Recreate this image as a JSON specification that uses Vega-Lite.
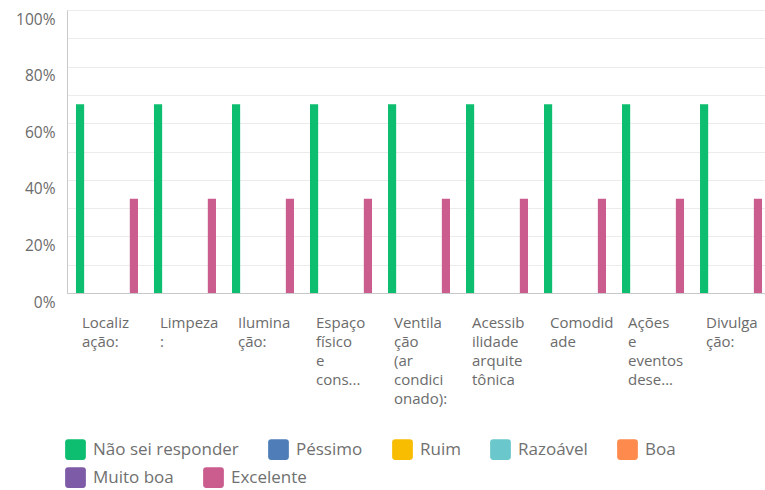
{
  "$schema": "https://vega.github.io/schema/vega-lite/v6.json",
  "width": 704,
  "height": 283,
  "padding": {"left": 15, "top": 10, "right": -6, "bottom": 0},
  "background": "white",
  "config": {
    "font": "Open Sans",
    "view": {"stroke": null},
    "axis": {"labelFont": "Open Sans", "labelColor": "#6b6b6b"},
    "legend": {
      "symbolType": "M -0.7,-1 L 0.7,-1 Q 1,-1 1,-0.7 L 1,0.7 Q 1,1 0.7,1 L -0.7,1 Q -1,1 -1,0.7 L -1,-0.7 Q -1,-1 -0.7,-1 Z",
      "symbolSize": 430,
      "symbolStrokeWidth": 0,
      "symbolOpacity": 1,
      "labelFontSize": 17,
      "labelColor": "#707070",
      "labelFont": "Open Sans",
      "labelOffset": 7,
      "columnPadding": 29,
      "padding": 0
    }
  },
  "datasets": {
    "rows": [
      {"item": "Localiz|ação:", "resposta": "Não sei responder", "pct": 0.6667},
      {"item": "Localiz|ação:", "resposta": "Péssimo", "pct": 0},
      {"item": "Localiz|ação:", "resposta": "Ruim", "pct": 0},
      {"item": "Localiz|ação:", "resposta": "Razoável", "pct": 0},
      {"item": "Localiz|ação:", "resposta": "Boa", "pct": 0},
      {"item": "Localiz|ação:", "resposta": "Muito boa", "pct": 0},
      {"item": "Localiz|ação:", "resposta": "Excelente", "pct": 0.3333},
      {"item": "Limpeza|:", "resposta": "Não sei responder", "pct": 0.6667},
      {"item": "Limpeza|:", "resposta": "Péssimo", "pct": 0},
      {"item": "Limpeza|:", "resposta": "Ruim", "pct": 0},
      {"item": "Limpeza|:", "resposta": "Razoável", "pct": 0},
      {"item": "Limpeza|:", "resposta": "Boa", "pct": 0},
      {"item": "Limpeza|:", "resposta": "Muito boa", "pct": 0},
      {"item": "Limpeza|:", "resposta": "Excelente", "pct": 0.3333},
      {"item": "Ilumina|ção:", "resposta": "Não sei responder", "pct": 0.6667},
      {"item": "Ilumina|ção:", "resposta": "Péssimo", "pct": 0},
      {"item": "Ilumina|ção:", "resposta": "Ruim", "pct": 0},
      {"item": "Ilumina|ção:", "resposta": "Razoável", "pct": 0},
      {"item": "Ilumina|ção:", "resposta": "Boa", "pct": 0},
      {"item": "Ilumina|ção:", "resposta": "Muito boa", "pct": 0},
      {"item": "Ilumina|ção:", "resposta": "Excelente", "pct": 0.3333},
      {"item": "Espaço|físico|e|cons...", "resposta": "Não sei responder", "pct": 0.6667},
      {"item": "Espaço|físico|e|cons...", "resposta": "Péssimo", "pct": 0},
      {"item": "Espaço|físico|e|cons...", "resposta": "Ruim", "pct": 0},
      {"item": "Espaço|físico|e|cons...", "resposta": "Razoável", "pct": 0},
      {"item": "Espaço|físico|e|cons...", "resposta": "Boa", "pct": 0},
      {"item": "Espaço|físico|e|cons...", "resposta": "Muito boa", "pct": 0},
      {"item": "Espaço|físico|e|cons...", "resposta": "Excelente", "pct": 0.3333},
      {"item": "Ventila|ção|(ar|condici|onado):", "resposta": "Não sei responder", "pct": 0.6667},
      {"item": "Ventila|ção|(ar|condici|onado):", "resposta": "Péssimo", "pct": 0},
      {"item": "Ventila|ção|(ar|condici|onado):", "resposta": "Ruim", "pct": 0},
      {"item": "Ventila|ção|(ar|condici|onado):", "resposta": "Razoável", "pct": 0},
      {"item": "Ventila|ção|(ar|condici|onado):", "resposta": "Boa", "pct": 0},
      {"item": "Ventila|ção|(ar|condici|onado):", "resposta": "Muito boa", "pct": 0},
      {"item": "Ventila|ção|(ar|condici|onado):", "resposta": "Excelente", "pct": 0.3333},
      {"item": "Acessib|ilidade|arquite|tônica", "resposta": "Não sei responder", "pct": 0.6667},
      {"item": "Acessib|ilidade|arquite|tônica", "resposta": "Péssimo", "pct": 0},
      {"item": "Acessib|ilidade|arquite|tônica", "resposta": "Ruim", "pct": 0},
      {"item": "Acessib|ilidade|arquite|tônica", "resposta": "Razoável", "pct": 0},
      {"item": "Acessib|ilidade|arquite|tônica", "resposta": "Boa", "pct": 0},
      {"item": "Acessib|ilidade|arquite|tônica", "resposta": "Muito boa", "pct": 0},
      {"item": "Acessib|ilidade|arquite|tônica", "resposta": "Excelente", "pct": 0.3333},
      {"item": "Comodid|ade", "resposta": "Não sei responder", "pct": 0.6667},
      {"item": "Comodid|ade", "resposta": "Péssimo", "pct": 0},
      {"item": "Comodid|ade", "resposta": "Ruim", "pct": 0},
      {"item": "Comodid|ade", "resposta": "Razoável", "pct": 0},
      {"item": "Comodid|ade", "resposta": "Boa", "pct": 0},
      {"item": "Comodid|ade", "resposta": "Muito boa", "pct": 0},
      {"item": "Comodid|ade", "resposta": "Excelente", "pct": 0.3333},
      {"item": "Ações|e|eventos|dese...", "resposta": "Não sei responder", "pct": 0.6667},
      {"item": "Ações|e|eventos|dese...", "resposta": "Péssimo", "pct": 0},
      {"item": "Ações|e|eventos|dese...", "resposta": "Ruim", "pct": 0},
      {"item": "Ações|e|eventos|dese...", "resposta": "Razoável", "pct": 0},
      {"item": "Ações|e|eventos|dese...", "resposta": "Boa", "pct": 0},
      {"item": "Ações|e|eventos|dese...", "resposta": "Muito boa", "pct": 0},
      {"item": "Ações|e|eventos|dese...", "resposta": "Excelente", "pct": 0.3333},
      {"item": "Divulga|ção:", "resposta": "Não sei responder", "pct": 0.6667},
      {"item": "Divulga|ção:", "resposta": "Péssimo", "pct": 0},
      {"item": "Divulga|ção:", "resposta": "Ruim", "pct": 0},
      {"item": "Divulga|ção:", "resposta": "Razoável", "pct": 0},
      {"item": "Divulga|ção:", "resposta": "Boa", "pct": 0},
      {"item": "Divulga|ção:", "resposta": "Muito boa", "pct": 0},
      {"item": "Divulga|ção:", "resposta": "Excelente", "pct": 0.3333}
    ]
  },
  "data": {"name": "rows"},
  "encoding": {
    "x": {
      "field": "item",
      "type": "nominal",
      "sort": null,
      "scale": {"paddingInner": 0.205, "paddingOuter": 0.115},
      "axis": {
        "title": null,
        "labelAngle": 0,
        "labelAlign": "left",
        "labelBaseline": "top",
        "labelOffset": -25,
        "labelPadding": 22,
        "labelFontSize": 15,
        "labelLineHeight": 19,
        "labelExpr": "split(datum.label, '|')",
        "labelLimit": 0,
        "ticks": false,
        "domainColor": "#c8c8c8",
        "grid": false
      }
    },
    "xOffset": {
      "field": "resposta",
      "type": "nominal",
      "scale": {
        "domain": ["Não sei responder", "Péssimo", "Ruim", "Razoável", "Boa", "Muito boa", "Excelente"],
        "paddingInner": 0.09,
        "paddingOuter": 0
      }
    },
    "y": {
      "field": "pct",
      "type": "quantitative",
      "scale": {"domain": [0, 1]},
      "axis": {
        "title": null,
        "values": [0, 0.1, 0.2, 0.3, 0.4, 0.5, 0.6, 0.7, 0.8, 0.9, 1],
        "labelExpr": "round(datum.value * 10) % 2 == 0 ? format(datum.value, '.0%') : ''",
        "labelFontSize": 15.5,
        "labelPadding": 12,
        "labelOffset": 9,
        "ticks": false,
        "domainColor": "#c8c8c8",
        "gridColor": "#ececec"
      }
    }
  },
  "layer": [
    {
      "transform": [{"filter": {"field": "resposta", "oneOf": ["Não sei responder", "Péssimo", "Ruim", "Razoável", "Boa"]}}],
      "mark": {"type": "bar"},
      "encoding": {
        "color": {
          "field": "resposta",
          "type": "nominal",
          "scale": {
            "domain": ["Não sei responder", "Péssimo", "Ruim", "Razoável", "Boa"],
            "range": ["#0DBE70", "#4F7DB8", "#F8BD00", "#6AC7CC", "#FF8A4E"]
          },
          "legend": {
            "title": null,
            "orient": "none",
            "direction": "horizontal",
            "columns": 5,
            "legendX": -2,
            "legendY": 429
          }
        }
      }
    },
    {
      "transform": [{"filter": {"field": "resposta", "oneOf": ["Muito boa", "Excelente"]}}],
      "mark": {"type": "bar"},
      "encoding": {
        "fill": {
          "field": "resposta",
          "type": "nominal",
          "scale": {
            "domain": ["Muito boa", "Excelente"],
            "range": ["#7D5BA6", "#CB5C8E"]
          },
          "legend": {
            "title": null,
            "orient": "none",
            "direction": "horizontal",
            "columns": 2,
            "legendX": -2,
            "legendY": 457
          }
        }
      }
    }
  ]
}
